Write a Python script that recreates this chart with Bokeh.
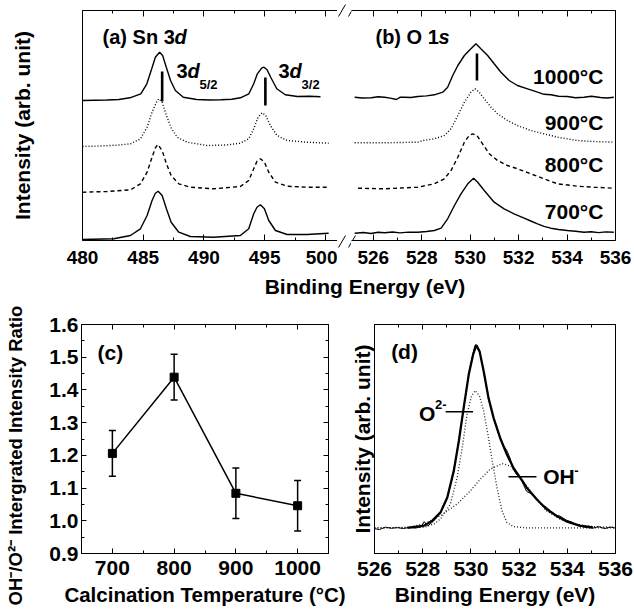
from bokeh.plotting import figure
from bokeh.models import (Range1d, LinearAxis, FixedTicker, Label, Whisker, TeeHead,
                          ColumnDataSource, PrintfTickFormatter)
from bokeh.layouts import row, column
from bokeh.embed import file_html
from bokeh.resources import INLINE

# ---------------- data ----------------
sn_ticks = [480, 485, 490, 495, 500]
sn_minor = [482.5, 487.5, 492.5, 497.5]
o_ticks = [526, 528, 530, 532, 534, 536]
o_minor = [527, 529, 531, 533, 535]

# (a) Sn 3d spectra (stacked, arb. units)
sn1000_x = [480.0, 481.0, 482.0, 483.0, 483.9, 484.8, 485.3, 485.7, 486.0, 486.35, 486.6, 486.9,
            487.25, 487.65, 488.3, 489.4, 490.5, 491.4, 492.3, 493.0, 493.7, 494.1, 494.4, 494.75,
            494.95, 495.2, 495.5, 496.0, 496.7, 497.7, 498.7, 499.6]
sn1000_y = [140.0, 140.3, 140.5, 141.0, 142.7, 146.7, 156.7, 171.7, 183.3, 188.3, 185.0, 173.3,
            160.0, 150.0, 143.3, 141.0, 140.5, 140.7, 141.3, 142.7, 146.7, 156.7, 166.7, 172.3,
            173.3, 170.7, 163.3, 151.7, 145.7, 144.0, 144.2, 143.8]
sn900_x = [480.0, 481.5, 483.0, 483.95, 484.77, 485.32, 485.73, 486.09, 486.28, 486.56, 486.91,
           487.3, 487.79, 488.61, 490.26, 491.8, 493.0, 493.69, 494.1, 494.46, 494.79, 495.09,
           495.47, 496.02, 496.85, 498.49, 500.27]
sn900_y = [94.0, 94.5, 95.5, 96.7, 101.7, 113.3, 128.3, 138.3, 141.7, 138.3, 125.0,
           112.7, 103.3, 98.3, 95.0, 95.5, 97.3, 101.7, 111.7, 123.3, 127.7, 125.0,
           115.0, 105.0, 100.0, 98.3, 97.3]
sn800_x = [480.0, 482.0, 483.95, 484.77, 485.32, 485.73, 486.0, 486.2, 486.56, 486.91, 487.3,
           487.93, 488.88, 490.8, 493.0, 493.69, 494.1, 494.37, 494.65, 494.98, 495.34, 495.89,
           496.85, 498.49, 500.27]
sn800_y = [48.3, 49.0, 50.7, 56.7, 68.3, 83.3, 92.7, 96.0, 90.0, 76.7, 65.0,
           56.7, 53.3, 51.7, 54.0, 60.0, 71.7, 79.3, 81.7, 78.3, 68.3, 58.3,
           54.3, 53.3, 53.3]
sn700_x = [480.0, 482.58, 483.95, 484.77, 485.32, 485.73, 486.0, 486.23, 486.56, 486.91, 487.3,
           487.93, 488.88, 490.8, 493.0, 493.69, 494.1, 494.37, 494.65, 494.98, 495.34, 495.89,
           496.85, 498.49, 500.27]
sn700_y = [1.0, 1.7, 5.0, 11.7, 25.0, 40.0, 47.3, 49.3, 45.0, 31.7, 18.3,
           8.3, 4.0, 3.3, 5.0, 11.7, 26.7, 33.3, 35.7, 31.7, 20.0, 10.0,
           6.0, 6.0, 7.3]

# (b) O 1s spectra
o1000_x = [525.23, 525.55, 525.92, 526.2, 526.46, 526.7, 526.95, 527.1, 527.29, 527.55, 527.84,
           528.2, 528.52, 528.87, 529.07, 529.28, 529.49, 529.76, 530.03, 530.24, 530.44, 530.72,
           530.99, 531.27, 531.61, 531.95, 532.37, 532.78, 533.05, 533.33, 533.65, 534.01, 534.35,
           534.7, 535.0, 535.38, 535.65, 535.93]
o1000_y = [143.3, 142.5, 142.7, 143.8, 143.3, 142.4, 141.0, 143.2, 143.3, 143.0, 144.0,
           144.6, 145.7, 148.3, 153.3, 165.0, 175.0, 185.0, 191.7, 196.7, 191.7, 185.0,
           176.7, 168.3, 160.0, 155.0, 151.7, 148.3, 146.2, 145.7, 144.2, 144.0, 142.8,
           143.3, 144.2, 143.0, 142.5, 143.3]
o900_x = [525.23, 526.46, 527.84, 528.05, 528.52, 528.93, 529.21, 529.49, 529.76, 530.03, 530.2,
          530.37, 530.58, 530.86, 531.13, 531.54, 531.95, 532.5, 533.05, 533.6, 534.42, 535.1,
          535.93]
o900_y = [97.7, 97.7, 98.3, 100.0, 101.7, 105.0, 111.7, 125.0, 138.3, 148.3, 151.7,
          148.3, 141.7, 133.3, 126.7, 120.0, 115.0, 110.0, 106.7, 103.3, 100.0, 99.0,
          98.3]
o800_x = [525.37, 526.46, 527.84, 528.52, 528.93, 529.21, 529.49, 529.76, 529.96, 530.1, 530.28,
          530.51, 530.79, 531.13, 531.54, 531.95, 532.5, 533.05, 533.6, 534.42, 535.1, 535.93]
o800_y = [52.3, 51.7, 53.3, 56.7, 61.7, 70.0, 83.3, 98.3, 105.0, 106.7, 105.0,
          96.7, 86.7, 80.0, 75.0, 71.7, 66.7, 61.7, 56.7, 54.3, 53.3, 52.3]
o700_x = [525.23, 525.6, 525.9, 526.2, 526.46, 526.8, 527.1, 527.45, 527.84, 528.2, 528.52,
          528.8, 529.07, 529.35, 529.62, 529.9, 530.14, 530.31, 530.58, 530.99, 531.4, 531.81,
          532.23, 532.5, 532.78, 533.05, 533.33, 533.65, 534.01, 534.35, 534.7, 535.0, 535.3,
          535.6, 535.93]
o700_y = [7.3, 8.0, 7.0, 8.2, 7.7, 8.5, 7.6, 8.4, 8.3, 9.0, 10.0,
          12.3, 21.7, 35.0, 46.7, 56.7, 62.3, 58.3, 50.0, 38.3, 31.7, 26.7,
          22.3, 19.5, 16.7, 14.2, 12.3, 11.0, 10.0, 9.2, 8.3, 8.8, 7.9,
          8.6, 8.3]

sn_peaks = [486.56, 495.06]
o_peak = [530.28]
temp_labels = ["1000°C", "900°C", "800°C", "700°C"]

# (c) OH-/O2- ratio
temps = [700, 800, 900, 1000]
ratio = [1.206, 1.439, 1.084, 1.046]
ratio_err = [0.070, 0.070, 0.077, 0.077]
c_xticks = [700, 800, 900, 1000]
c_xminor = [750, 850, 950]
c_yticks = [0.9, 1.0, 1.1, 1.2, 1.3, 1.4, 1.5, 1.6]
c_yminor = [0.95, 1.05, 1.15, 1.25, 1.35, 1.45, 1.55]

# (d) O 1s fit
d_raw_x = [526.0, 526.2, 526.45, 526.7, 526.95, 527.2, 527.45, 527.7, 527.95, 528.06, 528.2,
           528.45, 528.74, 529.02, 529.29, 529.5, 529.7, 529.91, 530.09, 530.17, 530.22, 530.28,
           530.36, 530.53, 530.73, 530.94, 531.21, 531.35, 531.49, 531.62, 531.76, 531.9, 532.04,
           532.2, 532.31, 532.5, 532.72, 532.9, 533.13, 533.3, 533.54, 533.7, 533.96, 534.2,
           534.51, 534.8, 535.06, 535.3, 535.55, 535.8, 536.0]
d_raw_y = [25.0, 24.0, 26.5, 25.3, 26.0, 25.0, 26.3, 25.5, 27.0, 32.0, 27.5,
           32.5, 41.0, 56.0, 83.5, 113.5, 146.0, 180.0, 201.0, 209.0, 210.0, 208.0,
           203.5, 183.0, 156.0, 136.0, 116.0, 108.5, 103.5, 96.0, 84.5, 79.0, 77.5,
           68.0, 62.5, 60.0, 55.5, 50.0, 46.5, 43.0, 38.5, 37.5, 33.5, 31.5,
           27.5, 26.0, 25.5, 27.0, 25.0, 26.5, 25.5]
d_fit_x = [527.37, 528.06, 528.4, 528.74, 529.02, 529.29, 529.5, 529.7, 529.91, 530.09, 530.22,
           530.36, 530.53, 530.73, 530.94, 531.21, 531.49, 531.76, 532.04, 532.31, 532.72, 533.13,
           533.54, 533.96, 534.51, 535.06]
d_fit_y = [25.7, 28.0, 33.0, 41.3, 56.3, 83.0, 113.0, 146.3, 179.7, 199.7, 209.0,
           203.0, 183.0, 156.3, 136.3, 116.3, 99.7, 86.3, 76.3, 66.3, 54.7, 44.7,
           38.0, 32.3, 28.0, 26.3]
d_o2_x = [526.0, 528.06, 528.47, 528.74, 529.15, 529.43, 529.64, 529.84, 530.02, 530.18,
          530.36, 530.53, 530.73, 530.91, 531.08, 531.29, 531.49, 531.76, 532.31, 536.0]
d_o2_y = [25.7, 26.3, 29.7, 34.7, 49.7, 76.3, 106.3, 139.7, 158.0, 163.7,
          158.0, 143.0, 116.3, 89.7, 66.3, 43.0, 31.3, 27.0, 25.7, 25.7]
d_oh_x = [526.0, 527.37, 528.06, 528.74, 529.43, 529.98, 530.39, 530.8, 531.29, 531.63,
          531.97, 532.31, 532.72, 533.13, 533.68, 534.23, 535.06, 536.0]
d_oh_y = [25.7, 26.3, 29.7, 38.0, 49.7, 63.0, 74.7, 84.7, 90.3, 88.0,
          79.7, 68.0, 54.7, 43.0, 34.7, 29.7, 27.0, 26.3]

# ---------------- styling helpers ----------------
FONT = "Liberation Sans"


def tick_style(ax, ticks, minor, size_px, standoff, major_in=6, minor_in=3, show=True):
    ax.ticker = FixedTicker(ticks=ticks, minor_ticks=minor)
    ax.major_tick_in = major_in
    ax.major_tick_out = 0
    ax.minor_tick_in = minor_in
    ax.minor_tick_out = 0
    ax.axis_line_color = "black"
    ax.axis_line_width = 1
    ax.major_tick_line_color = "black"
    ax.minor_tick_line_color = "black"
    ax.major_label_text_font = FONT
    ax.major_label_text_font_style = "bold"
    ax.major_label_text_color = "black"
    ax.major_label_standoff = standoff
    if show:
        ax.major_label_text_font_size = f"{size_px}px"
    else:
        ax.major_label_text_font_size = "0px"
        ax.major_label_overrides = {t: "" for t in ticks}


def axis_title(ax, text, size_px, standoff):
    ax.axis_label = text
    ax.axis_label_text_font = FONT
    ax.axis_label_text_font_style = "bold"
    ax.axis_label_text_font_size = f"{size_px}px"
    ax.axis_label_text_color = "black"
    ax.axis_label_standoff = standoff


def txt(p, x, y, text, size, style="bold", align="left", x_offset=0, angle=0):
    p.add_layout(Label(x=x, y=y, text=text, x_offset=x_offset, text_font=FONT,
                       text_font_style=style, text_font_size=f"{size}px",
                       text_align=align, text_baseline="middle", text_color="black",
                       angle=angle, angle_units="deg"))


def bare_line_axis(ax):
    ax.ticker = FixedTicker(ticks=[])
    ax.major_tick_in = 0
    ax.major_tick_out = 0
    ax.minor_tick_in = 0
    ax.minor_tick_out = 0
    ax.major_label_standoff = 0
    ax.major_label_text_font_size = "0px"
    ax.axis_line_color = "black"


common = dict(output_backend="svg", toolbar_location=None)


def blank(width, height, xr, yr):
    f = figure(width=width, height=height, x_range=xr, y_range=yr,
               x_axis_location=None, y_axis_location=None, min_border=0,
               frame_align=False, **common)
    f.outline_line_color = None
    f.grid.visible = False
    return f


# ---------------- top panel: (a) Sn 3d | (b) O 1s ----------------
y_top = Range1d(0, 230)

pa = figure(width=337, height=272, x_range=Range1d(480, 501), y_range=y_top,
            min_border_left=82, min_border_right=0, min_border_top=10, min_border_bottom=32,
            **common)
pa.outline_line_color = None
pa.grid.visible = False
tick_style(pa.xaxis[0], sn_ticks, sn_minor, 19, 10)
top_a = LinearAxis()
tick_style(top_a, sn_ticks, sn_minor, 19, 0, show=False)
pa.add_layout(top_a, "above")
bare_line_axis(pa.yaxis[0])
axis_title(pa.yaxis[0], "Intensity (arb. unit)", 21, 49)

lw = 1.4
pa.line(sn1000_x, sn1000_y, line_color="black", line_width=lw)
pa.line(sn900_x, sn900_y, line_color="black", line_width=lw, line_dash="1 2")
pa.line(sn800_x, sn800_y, line_color="black", line_width=lw, line_dash="4 3")
pa.line(sn700_x, sn700_y, line_color="black", line_width=lw)
pa.segment(x0=sn_peaks, y0=[139, 135], x1=sn_peaks, y1=[169, 163],
           line_color="black", line_width=2.6)

txt(pa, 481.65, 204, "(a) Sn 3", 20)
txt(pa, 481.65, 204, "d", 20, style="bold italic", x_offset=72)
for xx in (487.74, 496.15):
    txt(pa, xx, 170, "3", 20)
    txt(pa, xx, 170, "d", 20, style="bold italic", x_offset=11)
txt(pa, 487.74, 156.5, "5/2", 13, x_offset=23)
txt(pa, 496.15, 156.5, "3/2", 13, x_offset=23)

# gap between the two axis segments, holding the break marks (page-pixel coordinates)
gap = blank(14, 272, Range1d(337, 351), Range1d(272, 0))
brk_x0 = [338, 348, 338, 348]
brk_y0 = [247, 247, 16, 16]
brk_x1 = [345, 355, 345, 355]
brk_y1 = [235, 235, 4, 4]
gap.segment(x0=brk_x0, y0=brk_y0, x1=brk_x1, y1=brk_y1, line_color="black", line_width=1)

pb = figure(width=282, height=272, x_range=Range1d(525.1, 536), y_range=y_top,
            y_axis_location="right",
            min_border_left=0, min_border_right=18, min_border_top=10, min_border_bottom=32,
            **common)
pb.outline_line_color = None
pb.grid.visible = False
tick_style(pb.xaxis[0], o_ticks, o_minor, 19, 10)
top_b = LinearAxis()
tick_style(top_b, o_ticks, o_minor, 19, 0, show=False)
pb.add_layout(top_b, "above")
bare_line_axis(pb.yaxis[0])

pb.line(o1000_x, o1000_y, line_color="black", line_width=lw)
pb.line(o900_x, o900_y, line_color="black", line_width=lw, line_dash="1 2")
pb.line(o800_x, o800_y, line_color="black", line_width=lw, line_dash="4 3")
pb.line(o700_x, o700_y, line_color="black", line_width=lw)
pb.segment(x0=o_peak, y0=[160], x1=o_peak, y1=[187], line_color="black", line_width=2.6)
# continuation of the second break slash inside this frame
pb.segment(x0=[524.976, 524.976], y0=[-7, 224], x1=[525.265, 525.265], y1=[5, 236],
           line_color="black", line_width=1)

txt(pb, 526.09, 203.5, "(b) O 1", 20)
txt(pb, 526.09, 203.5, "s", 20, style="bold italic", x_offset=63)
for lab, yy in zip(temp_labels, [164.5, 118.5, 76.5, 29]):
    txt(pb, 535.5, yy, lab, 21, align="right")

# shared x-axis title strip
strip = blank(634, 28, Range1d(0, 634), Range1d(0, 28))
txt(strip, 364.5, 14.5, "Binding Energy (eV)", 21, align="center")

# ---------------- (c) ratio vs temperature ----------------
ylab_c = blank(30, 315, Range1d(0, 30), Range1d(315, 0))
txt(ylab_c, 15, 155, "OH⁻/O²⁻ Intergrated Intensity Ratio", 18.5, align="center", angle=90)

pc = figure(width=317, height=315, x_range=Range1d(650, 1050), y_range=Range1d(0.9, 1.6),
            min_border_left=51, min_border_right=19, min_border_top=24, min_border_bottom=61,
            **common)
pc.outline_line_color = "black"
pc.grid.visible = False
tick_style(pc.xaxis[0], c_xticks, c_xminor, 21, 7, major_in=5, minor_in=3)
tick_style(pc.yaxis[0], c_yticks, c_yminor, 21, 3, major_in=5, minor_in=3)
pc.yaxis[0].formatter = PrintfTickFormatter(format="%.1f")
axis_title(pc.xaxis[0], "Calcination Temperature (°C)", 20.5, 5)
top_c = LinearAxis()
tick_style(top_c, c_xticks, c_xminor, 21, 0, major_in=5, minor_in=3, show=False)
pc.add_layout(top_c, "above")
right_c = LinearAxis()
tick_style(right_c, c_yticks, c_yminor, 21, 0, major_in=5, minor_in=3, show=False)
pc.add_layout(right_c, "right")

src = ColumnDataSource(dict(t=temps, r=ratio,
                            up=[r + e for r, e in zip(ratio, ratio_err)],
                            lo=[r - e for r, e in zip(ratio, ratio_err)]))
pc.line("t", "r", source=src, line_color="black", line_width=1.5)
pc.add_layout(Whisker(source=src, base="t", upper="up", lower="lo", line_color="black",
                      line_width=1.5,
                      upper_head=TeeHead(size=7, line_color="black", line_width=1.5),
                      lower_head=TeeHead(size=7, line_color="black", line_width=1.5)))
pc.scatter("t", "r", source=src, marker="square", size=8, color="black")
txt(pc, 676, 1.515, "(c)", 21)

# ---------------- (d) O 1s deconvolution ----------------
pd_ = figure(width=286, height=315, x_range=Range1d(526, 536), y_range=Range1d(0, 230),
             min_border_left=25, min_border_right=18, min_border_top=23, min_border_bottom=62,
             **common)
pd_.outline_line_color = "black"
pd_.grid.visible = False
tick_style(pd_.xaxis[0], o_ticks, o_minor, 21, 8, major_in=5, minor_in=3)
axis_title(pd_.xaxis[0], "Binding Energy (eV)", 21, 4)
top_d = LinearAxis()
tick_style(top_d, o_ticks, o_minor, 21, 0, major_in=5, minor_in=3, show=False)
pd_.add_layout(top_d, "above")
bare_line_axis(pd_.yaxis[0])
axis_title(pd_.yaxis[0], "Intensity (arb. unit)", 21, 1)

pd_.line(d_o2_x, d_o2_y, line_color="#222222", line_width=1.3, line_dash="1 2")
pd_.line(d_oh_x, d_oh_y, line_color="#222222", line_width=1.3, line_dash="1 2")
pd_.line(d_raw_x, d_raw_y, line_color="black", line_width=1)
pd_.line(d_fit_x, d_fit_y, line_color="black", line_width=2.3)
pd_.segment(x0=[528.95, 531.56], y0=[142.3, 77], x1=[530.09, 532.72], y1=[142.3, 77],
            line_color="black", line_width=1.5)

txt(pd_, 526.69, 202.5, "(d)", 21)
txt(pd_, 527.85, 140.5, "O", 21)
txt(pd_, 527.85, 149.5, "2-", 13, x_offset=16)
txt(pd_, 533.0, 77.5, "OH", 21)
txt(pd_, 533.0, 83, "-", 13, x_offset=31)

layout = column(row(pa, gap, pb), strip, row(ylab_c, pc, pd_))
open("out.html", "w").write(file_html(layout, INLINE))
